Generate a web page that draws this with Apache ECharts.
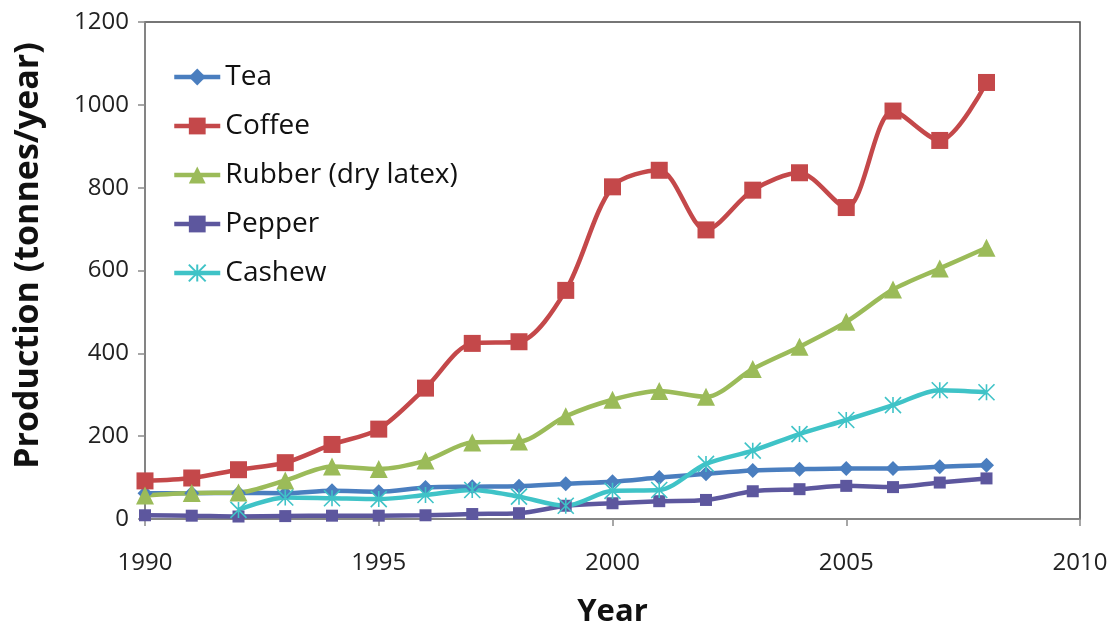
<!DOCTYPE html>
<html>
<head>
<meta charset="utf-8">
<script src="https://cdn.jsdelivr.net/npm/echarts@6/dist/echarts.min.js"></script>
<style>
  html, body { margin: 0; padding: 0; background: #ffffff; }
  #chart { width: 1115px; height: 630px; }
</style>
</head>
<body>
<div id="chart"></div>
<script>
// Annual production by crop, 1990-2008 (tonnes/year)
const years  = [1990, 1991, 1992, 1993, 1994, 1995, 1996, 1997, 1998, 1999,
                2000, 2001, 2002, 2003, 2004, 2005, 2006, 2007, 2008];
const tea    = [62, 62, 63, 62, 68, 66, 76, 78, 79, 85, 90, 100, 109, 117, 120, 122, 122, 126, 130];
const coffee = [92, 99, 119, 136, 180, 217, 316, 424, 428, 552, 802, 842, 698, 794, 836, 752, 985, 914, 1054];
const rubber = [57, 63, 64, 93, 127, 121, 141, 185, 187, 248, 288, 309, 295, 362, 416, 476, 554, 605, 655];
const pepper = [9, 8, 6, 7, 8, 8, 9, 12, 14, 32, 38, 43, 46, 67, 72, 80, 77, 88, 98];
const cashew = [null, null, 22, 52, 50, 48, 58, 70, 54, 32, 68, 70, 133, 165, 205, 239, 275, 311, 306];

const xTicks = { min: 1990, max: 2010, step: 5 };
const yTicks = { min: 0, max: 1200, step: 200 };

const pairs = vals => years.map((y, i) => [y, vals[i]]);

// asterisk-style marker: an X crossed by a vertical bar
const starPath = 'path://M0,0 L20,20 M0,20 L20,0 M10,0 L10,20';

function lineSeries(name, vals, color, symbol, size, extra) {
  return Object.assign({
    name: name,
    type: 'line',
    data: pairs(vals),
    smooth: 0.3,
    symbol: symbol,
    symbolSize: size,
    showSymbol: true,
    connectNulls: false,
    lineStyle: { color: color, width: 4.5 },
    itemStyle: { color: color },
    emphasis: { disabled: true }
  }, extra || {});
}

const chart = echarts.init(document.getElementById('chart'), null, { renderer: 'canvas' });

chart.setOption({
  backgroundColor: '#ffffff',
  animation: false,
  grid: {
    left: 145, right: 35, top: 22, bottom: 111,
    containLabel: false, outerBoundsMode: 'none',
    show: true, borderColor: '#4a4a4a', borderWidth: 1.5
  },
  legend: {
    orient: 'vertical',
    left: 167, top: 57,
    itemWidth: 46, itemHeight: 21, itemGap: 19,
    lineStyle: { width: 4.5 },
    textStyle: { fontFamily: 'Open Sans', fontSize: 28, color: '#111', lineHeight: 30 },
    data: ['Tea', 'Coffee', 'Rubber (dry latex)', 'Pepper', 'Cashew']
  },
  xAxis: {
    type: 'value',
    min: xTicks.min, max: xTicks.max, interval: xTicks.step,
    name: 'Year', nameLocation: 'middle', nameGap: 78,
    nameTextStyle: { fontFamily: 'Open Sans', fontWeight: 'bold', fontSize: 31, color: '#111' },
    axisLine: { lineStyle: { color: '#8a8a8a', width: 1.5 } },
    axisTick: { show: true, inside: false, length: 7, lineStyle: { color: '#8a8a8a', width: 1.5 } },
    axisLabel: { margin: 32, fontFamily: 'Open Sans', fontSize: 24, color: '#222',
                 formatter: v => String(v) },
    splitLine: { show: false }
  },
  yAxis: {
    type: 'value',
    min: yTicks.min, max: yTicks.max, interval: yTicks.step,
    name: 'Production (tonnes/year)', nameLocation: 'middle', nameGap: 100,
    nameTextStyle: { fontFamily: 'Open Sans', fontWeight: 'bold', fontSize: 34, color: '#111',
                     padding: [0, 0, 0, 30] },
    axisLine: { show: true, lineStyle: { color: '#8a8a8a', width: 1.5 } },
    axisTick: { show: true, inside: false, length: 7, lineStyle: { color: '#8a8a8a', width: 1.5 } },
    axisLabel: { margin: 16, fontFamily: 'Open Sans', fontSize: 24, color: '#222',
                 formatter: v => String(v) },
    splitLine: { show: false }
  },
  series: [
    lineSeries('Tea', tea, '#4a7ebf', 'diamond', 15),
    lineSeries('Coffee', coffee, '#c4484a', 'rect', 17),
    lineSeries('Rubber (dry latex)', rubber, '#9bbb59', 'triangle', 18),
    lineSeries('Pepper', pepper, '#5d579e', 'rect', 12),
    lineSeries('Cashew', cashew, '#3fc3c7', starPath, 16, {
      itemStyle: { color: '#3fc3c7', borderColor: '#3fc3c7', borderWidth: 1.6 }
    })
  ]
});
</script>
</body>
</html>
